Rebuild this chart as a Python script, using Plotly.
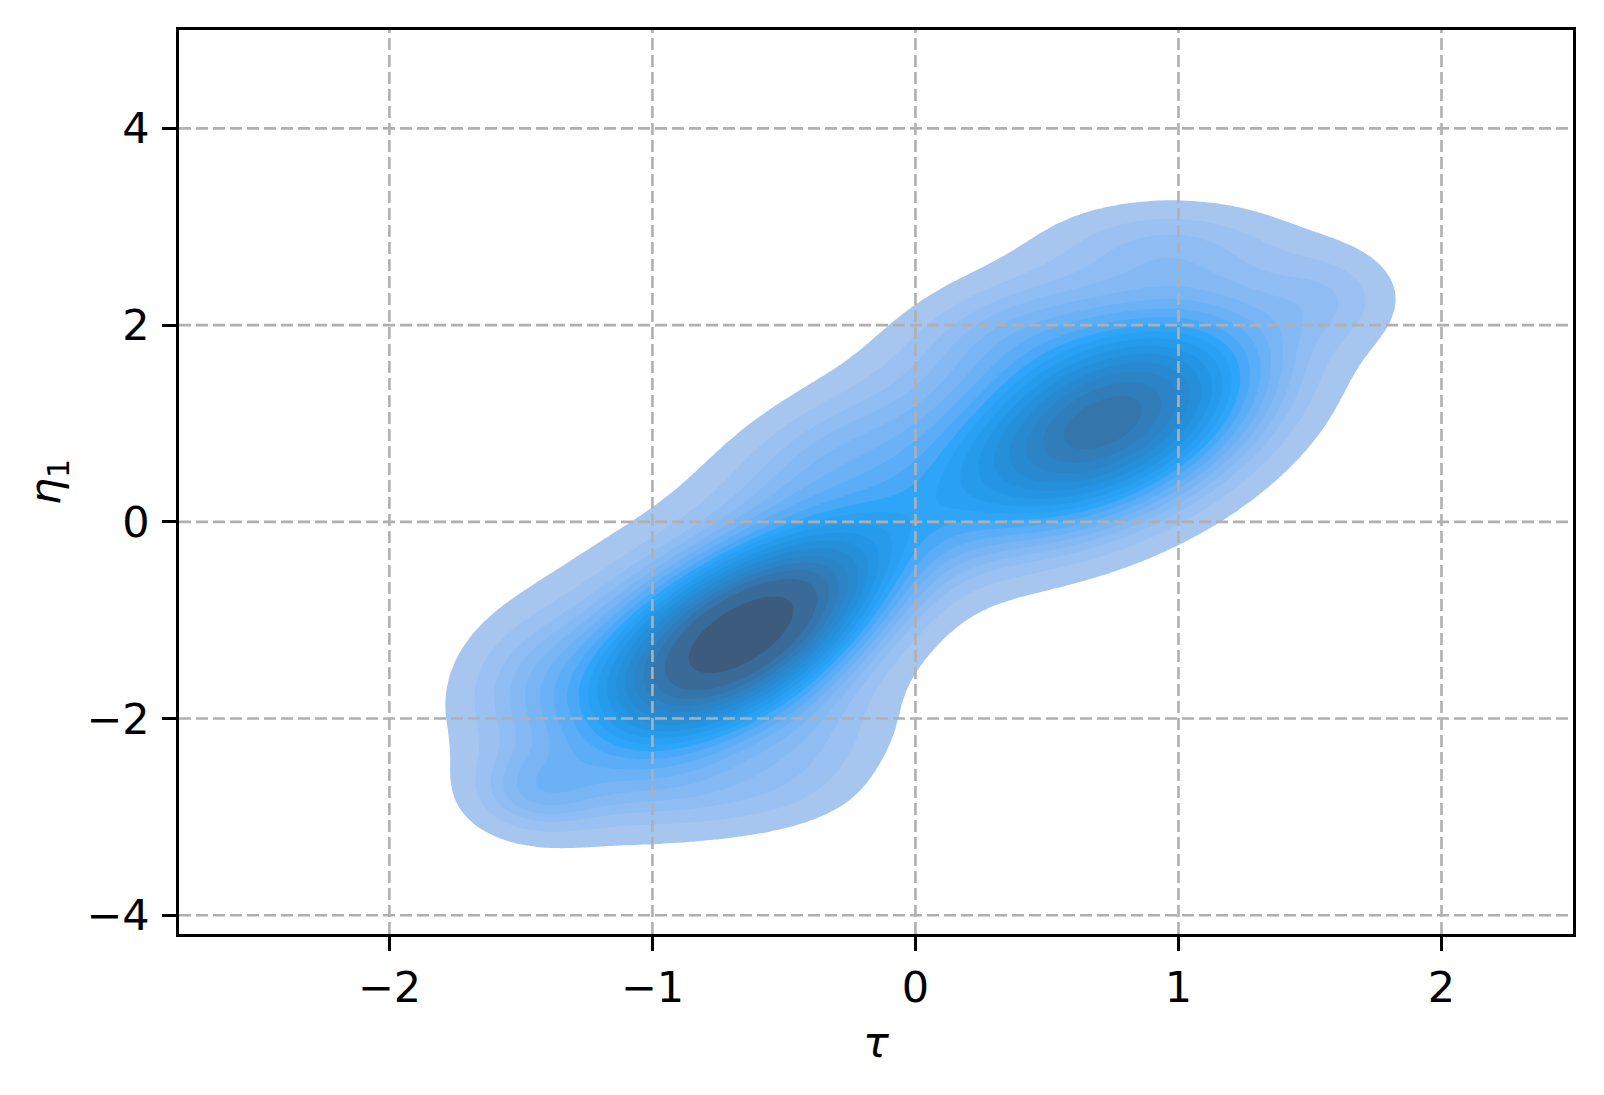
import math
import numpy as np
import plotly.graph_objects as go

# ---------------- data ----------------
x_ticks = [-2, -1, 0, 1, 2]
y_ticks = [-4, -2, 0, 2, 4]
x_range = [-2.8, 2.5]
y_range = [-4.19, 5.0]

# Gaussian components approximating the KDE of (tau, eta_1)
comp_mx = [-0.62, -0.85, 0.72, 0.75, 0.95, 1.60, -1.50, 0.00, -0.35, -0.35, -1.45, -0.80, 0.30]
comp_my = [-1.08, -1.45, 0.95, 1.25, 2.85, 2.30, -1.60, 0.30, 0.75, -2.35, -2.75, -2.80, 2.00]
comp_sx = [0.36, 0.44, 0.40, 0.45, 0.32, 0.18, 0.20, 0.35, 0.30, 0.22, 0.17, 0.40, 0.30]
comp_sy = [0.70, 0.92, 0.75, 0.85, 0.32, 0.35, 0.50, 0.70, 0.55, 0.40, 0.30, 0.30, 0.45]
comp_rho = [0.62, 0.30, 0.50, 0.30, 0.00, 0.00, 0.20, 0.50, 0.50, 0.40, 0.00, 0.00, 0.40]
comp_w = [0.28, 0.22, 0.26, 0.16, 0.02, 0.01, 0.015, 0.04, 0.035, 0.01, 0.012, 0.015, 0.025]

n_levels = 20
thresh = 0.05

# ---------------- density on a grid ----------------
gx = np.linspace(-3.2, 3.2, 361)
gy = np.linspace(-5.5, 6.0, 361)
XX, YY = np.meshgrid(gx, gy)
dens = np.zeros_like(XX)
for mx, my, sx, sy, r, w in zip(comp_mx, comp_my, comp_sx, comp_sy, comp_rho, comp_w):
    dx = (XX - mx) / sx
    dy = (YY - my) / sy
    q = (dx * dx - 2 * r * dx * dy + dy * dy) / (1 - r * r)
    dens += w * np.exp(-0.5 * q) / (2 * math.pi * sx * sy * math.sqrt(1 - r * r))

# iso-proportion levels (as seaborn kdeplot does)
props = np.linspace(thresh, 1, n_levels)
sv = np.sort(dens.ravel())[::-1]
cum = np.cumsum(sv) / sv.sum()
idx = np.searchsorted(cum, 1 - props)
levels = np.take(sv, idx, mode="clip")

# transform density to "level index" space so uniform contours hit the levels
zt = np.interp(dens, levels, np.arange(n_levels, dtype=float))
low = dens < levels[0]
zt[low] = dens[low] / levels[0] - 1.0


# ---------------- seaborn-like colormap (HUSL ramp) ----------------
M = [[3.2406, -1.5372, -0.4986], [-0.9689, 1.8758, 0.0415], [0.0557, -0.2040, 1.0570]]
REF_U, REF_V = 0.19784, 0.46834
KAPPA, EPS = 903.2962962, 0.0088564516


def max_chroma(L, H):
    hr = math.radians(H)
    sh, ch = math.sin(hr), math.cos(hr)
    sub1 = (L + 16) ** 3 / 1560896.0
    sub2 = sub1 if sub1 > EPS else L / KAPPA
    res = float("inf")
    for m1, m2, m3 in M:
        top = (0.99915 * m1 + 1.05122 * m2 + 1.14460 * m3) * sub2
        rb = 0.86330 * m3 - 0.17266 * m2
        lb = 0.12949 * m3 - 0.38848 * m1
        bottom = (rb * sh + lb * ch) * sub2
        for t in (0.0, 1.0):
            C = L * (top - 1.05122 * t) / (bottom + 0.17266 * sh * t)
            if 0 < C < res:
                res = C
    return res


def husl_to_rgb(H, S, L):
    C = max_chroma(L, H) / 100.0 * S
    hr = math.radians(H)
    U, V = math.cos(hr) * C, math.sin(hr) * C
    Y = ((L + 16) / 116.0) ** 3 if L > 8 else L / KAPPA
    vu = U / (13 * L) + REF_U
    vv = V / (13 * L) + REF_V
    X = -(9 * Y * vu) / ((vu - 4) * vv - vu * vv)
    Z = (9 * Y - 15 * vv * Y - vv * X) / (3 * vv)
    out = []
    for row in M:
        c = row[0] * X + row[1] * Y + row[2] * Z
        c = 12.92 * c if c <= 0.0031308 else 1.055 * c ** (1 / 2.4) - 0.055
        out.append(min(max(c, 0.0), 1.0))
    return out


BASE_H, BASE_S = 245.0, 95.0
xx = np.linspace(-1, 1, int(1.15 * 256))[:256]
ramp = [husl_to_rgb(BASE_H, BASE_S * math.cos(v), l) for v, l in zip(xx, np.linspace(35, 80, 256))]
ramp = ramp[::-1]

layers = 0.5 * (levels[:-1] + levels[1:])
tnorm = (layers - levels[0]) / (levels[-1] - levels[0])
band_colors = []
for t in tnorm:
    i = min(max(int(t * 256), 0), 255)
    r, g, b = ramp[i]
    band_colors.append("rgb(%d,%d,%d)" % (round(r * 255), round(g * 255), round(b * 255)))

nc = n_levels  # number of contour levels
cscale = [[0.0, "rgba(255,255,255,0)"], [0.5 / nc, "rgba(255,255,255,0)"]]
for k, c in enumerate(band_colors):
    cscale.append([(k + 0.5) / nc, c])
    cscale.append([min((k + 1.5) / nc, 1.0), c])
if cscale[-1][0] < 1.0:
    cscale.append([1.0, band_colors[-1]])

fig = go.Figure()
fig.add_trace(go.Contour(
    x=gx, y=gy, z=zt,
    autocontour=False,
    contours=dict(start=0, end=n_levels - 1, size=1, coloring="fill", showlines=False),
    line=dict(width=0, smoothing=0),
    colorscale=cscale,
    showscale=False,
    hoverinfo="skip",
))

grid_style = dict(color="#b0b0b0", width=2.6, dash="12px,5px")
for xv in x_ticks:
    fig.add_shape(type="line", xref="x", yref="paper", x0=xv, x1=xv, y0=0, y1=1,
                  line=grid_style, layer="above")
for yv in y_ticks:
    fig.add_shape(type="line", xref="paper", yref="y", x0=0, x1=1, y0=yv, y1=yv,
                  line=grid_style, layer="above")

axis_common = dict(
    ticks="outside", ticklen=14, tickwidth=2.5, tickcolor="black",
    showline=True, linecolor="black", linewidth=2.5, mirror=True,
    showgrid=False, zeroline=False, layer="above traces",
    tickfont=dict(family="DejaVu Sans", size=43, color="black"),
)
fig.update_xaxes(range=x_range, tickvals=x_ticks, ticklabelstandoff=0,
                 title=dict(text="<i>τ</i>", standoff=16,
                            font=dict(family="DejaVu Sans", size=43, color="black")),
                 **axis_common)
fig.update_yaxes(range=y_range, tickvals=y_ticks, ticklabelstandoff=4,
                 title=dict(text="<i>η</i><sub>1</sub>", standoff=13,
                            font=dict(family="DejaVu Sans", size=43, color="black")),
                 **axis_common)
# page body has an 8px margin: shrink the figure so the plot area lands where it should
fig.update_layout(
    width=1596, height=1087,
    margin=dict(l=171, r=31, t=22, b=161),
    plot_bgcolor="white", paper_bgcolor="white",
    showlegend=False,
)
fig.write_html("out.html")
